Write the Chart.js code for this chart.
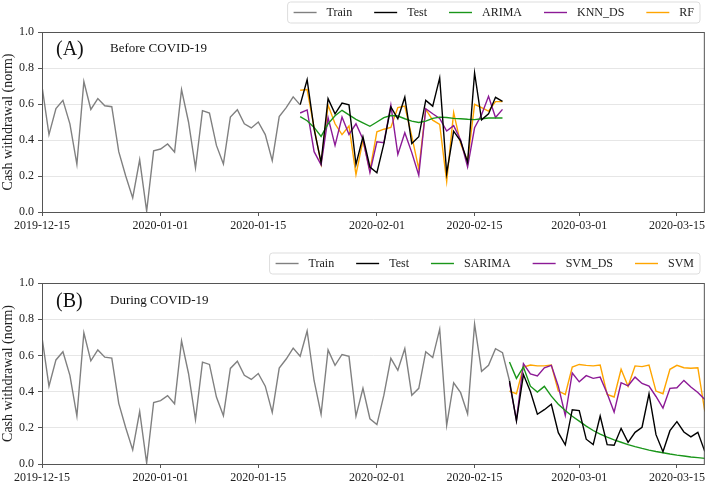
<!DOCTYPE html>
<html>
<head>
<meta charset="utf-8">
<script src="https://cdn.jsdelivr.net/npm/chart.js@4.4.0/dist/chart.umd.min.js"></script>
<style>
  html, body { margin: 0; padding: 0; background: #fff; }
  canvas { position: absolute; left: 0; }
  #chartA { top: 0; }
  #chartB { top: 240px; }
</style>
</head>
<body>
<canvas id="chartA" width="708" height="240"></canvas>
<canvas id="chartB" width="708" height="243"></canvas>
<script>
// x values are days counted from 2019-12-15
var tickDays = [0, 17, 31, 48, 62, 77, 91];
var tickLabels = ['2019-12-15', '2020-01-01', '2020-01-15', '2020-02-01', '2020-02-15', '2020-03-01', '2020-03-15'];
var yTicks = [0, 0.2, 0.4, 0.6, 0.8, 1.0];
var lastDay = 95;

// observed cash withdrawal (normalised), one value per day
var cash = [0.70, 0.43, 0.575, 0.62, 0.49, 0.265, 0.725, 0.57, 0.63, 0.59,
  0.585, 0.335, 0.20, 0.078, 0.29, 0.005, 0.34, 0.35, 0.378, 0.333,
  0.68, 0.50, 0.245, 0.563, 0.55, 0.37, 0.267, 0.528, 0.568, 0.49,
  0.467, 0.50, 0.43, 0.285, 0.53, 0.58, 0.64, 0.595, 0.735, 0.46,
  0.275, 0.63, 0.545, 0.605, 0.595, 0.264, 0.418, 0.25, 0.218, 0.38,
  0.584, 0.518, 0.638, 0.38, 0.418, 0.62, 0.588, 0.745, 0.214, 0.449,
  0.394, 0.277, 0.773, 0.512, 0.545, 0.637, 0.615, 0.46, 0.238, 0.494,
  0.40, 0.275, 0.30, 0.33, 0.173, 0.106, 0.30, 0.295, 0.137, 0.107,
  0.265, 0.107, 0.104, 0.197, 0.12, 0.175, 0.203, 0.388, 0.162, 0.068,
  0.184, 0.234, 0.177, 0.15, 0.175, 0.069];

// (A) before covid: test from day 37 to day 66
var testStartA = 37, testEndA = 66;
var arimaA = [0.53, 0.507, 0.47, 0.42, 0.49, 0.535, 0.565, 0.54, 0.515, 0.495,
  0.476, 0.50, 0.524, 0.536, 0.533, 0.518, 0.505, 0.497, 0.505, 0.52,
  0.527, 0.525, 0.52, 0.518, 0.515, 0.513, 0.518, 0.522, 0.523, 0.522];
var knnDsA = [0.55, 0.567, 0.335, 0.262, 0.524, 0.37, 0.528, 0.431, 0.49, 0.404,
  0.22, 0.39, 0.385, 0.594, 0.32, 0.44, 0.33, 0.204, 0.574, 0.546,
  0.52, 0.45, 0.48, 0.40, 0.25, 0.468, 0.54, 0.643, 0.525, 0.57];
var rfA = [0.676, 0.68, 0.468, 0.268, 0.594, 0.49, 0.43, 0.478, 0.208, 0.398,
  0.231, 0.446, 0.46, 0.47, 0.58, 0.589, 0.42, 0.24, 0.57, 0.51,
  0.487, 0.17, 0.552, 0.38, 0.28, 0.598, 0.58, 0.56, 0.613, 0.613];

// (B) during covid: test from day 67 to the end
var testStartB = 67;
var sarimaB = [0.564, 0.473, 0.536, 0.43, 0.397, 0.429, 0.375, 0.33, 0.296, 0.264,
  0.237, 0.209, 0.185, 0.165, 0.148, 0.133, 0.12, 0.107, 0.096, 0.086,
  0.077, 0.069, 0.062, 0.055, 0.049, 0.044, 0.039, 0.035, 0.031];
var svmDsB = [0.45, 0.242, 0.554, 0.498, 0.487, 0.531, 0.545, 0.43, 0.268, 0.503,
  0.454, 0.488, 0.473, 0.48, 0.39, 0.287, 0.449, 0.432, 0.48, 0.445,
  0.43, 0.373, 0.309, 0.418, 0.421, 0.462, 0.425, 0.395, 0.356];
var svmB = [0.403, 0.388, 0.536, 0.547, 0.542, 0.542, 0.547, 0.403, 0.384, 0.536,
  0.55, 0.545, 0.542, 0.547, 0.384, 0.37, 0.523, 0.43, 0.542, 0.538,
  0.547, 0.403, 0.388, 0.523, 0.545, 0.532, 0.529, 0.532, 0.29];

var SERIF = '"Liberation Serif", "Times New Roman", serif';

function pts(values, start) {
  return values.map(function (v, i) { return { x: start + i, y: v }; });
}

function line(label, color, data) {
  return { label: label, data: data, borderColor: color, backgroundColor: color,
    borderWidth: 1.4, pointRadius: 0, tension: 0, fill: false };
}

// frame, panel letter and a boxed legend in the top right corner
var decor = {
  id: 'decor',
  afterDraw: function (chart, args, o) {
    var ctx = chart.ctx, a = chart.chartArea;
    ctx.save();
    ctx.strokeStyle = '#555';
    ctx.lineWidth = 1;
    ctx.strokeRect(a.left + 0.5, a.top + 0.5, a.right - a.left - 1, a.bottom - a.top);

    ctx.fillStyle = '#111';
    ctx.textBaseline = 'middle';
    ctx.textAlign = 'left';
    ctx.font = '20px ' + SERIF;
    ctx.fillText(o.letter, 56, o.letterY);
    ctx.font = '13px ' + SERIF;
    ctx.fillText(o.subtitle, 110, o.letterY - 1);

    // legend
    var sets = chart.data.datasets;
    ctx.font = '12px ' + SERIF;
    var lineLen = 23, gap = 10, pad = 22;
    var widths = sets.map(function (ds) { return lineLen + gap + ctx.measureText(ds.label).width; });
    var total = widths.reduce(function (s, w) { return s + w; }, 0) + pad * (sets.length - 1);
    var right = 694, left = right - total;
    var top = o.legendY - 10, h = 21;
    ctx.beginPath();
    ctx.roundRect(left - 6, top, total + 12, h, 3);
    ctx.fillStyle = 'rgba(255,255,255,0.9)';
    ctx.fill();
    ctx.strokeStyle = '#ddd';
    ctx.stroke();
    var x = left;
    sets.forEach(function (ds, i) {
      ctx.strokeStyle = ds.borderColor;
      ctx.lineWidth = 1.4;
      ctx.beginPath();
      ctx.moveTo(x, o.legendY + 0.5);
      ctx.lineTo(x + lineLen, o.legendY + 0.5);
      ctx.stroke();
      ctx.fillStyle = '#222';
      ctx.fillText(ds.label, x + lineLen + gap, o.legendY + 1);
      x += widths[i] + pad;
    });
    ctx.restore();
  }
};

function options(deco, axisH) {
  return {
    responsive: false,
    animation: false,
    layout: { padding: { top: deco.plotTop, right: 2, left: 0, bottom: 0 } },
    plugins: { legend: { display: false }, tooltip: { enabled: false }, decor: deco },
    scales: {
      x: {
        type: 'linear', min: 0, max: lastDay,
        afterBuildTicks: function (s) { s.ticks = tickDays.map(function (d) { return { value: d }; }); },
        afterFit: function (s) { s.height = axisH; },
        ticks: {
          autoSkip: false, maxRotation: 0, padding: 3, color: '#222',
          font: { family: SERIF, size: 12 },
          callback: function (v, i) { return tickLabels[i]; }
        },
        grid: { drawOnChartArea: false, tickLength: 4, color: '#555' },
        border: { display: false }
      },
      y: {
        min: 0, max: 1,
        afterBuildTicks: function (s) { s.ticks = yTicks.map(function (v) { return { value: v }; }); },
        afterFit: function (s) { s.width = 42; },
        ticks: {
          padding: 4, color: '#222', font: { family: SERIF, size: 12 },
          callback: function (v) { return v.toFixed(1); }
        },
        grid: { color: '#e6e6e6', tickLength: 4, tickColor: '#555' },
        border: { display: false },
        title: { display: true, text: 'Cash withdrawal (norm)', color: '#222',
          font: { family: SERIF, size: 14 }, padding: { top: 0, bottom: 0 } }
      }
    }
  };
}

new Chart(document.getElementById('chartA'), {
  type: 'line',
  data: {
    datasets: [
      line('Train', '#808080', pts(cash.slice(0, testStartA + 1), 0)),
      line('Test', '#000000', pts(cash.slice(testStartA, testEndA + 1), testStartA)),
      line('ARIMA', '#1a961a', pts(arimaA, testStartA)),
      line('KNN_DS', '#8c1a96', pts(knnDsA, testStartA)),
      line('RF', '#ffa500', pts(rfA, testStartA))
    ]
  },
  options: options({ letter: '(A)', subtitle: 'Before COVID-19', letterY: 50, legendY: 12, plotTop: 32 }, 28),
  plugins: [decor]
});

new Chart(document.getElementById('chartB'), {
  type: 'line',
  data: {
    datasets: [
      line('Train', '#808080', pts(cash.slice(0, testStartB + 1), 0)),
      line('Test', '#000000', pts(cash.slice(testStartB), testStartB)),
      line('SARIMA', '#1a961a', pts(sarimaB, testStartB)),
      line('SVM_DS', '#8c1a96', pts(svmDsB, testStartB)),
      line('SVM', '#ffa500', pts(svmB, testStartB))
    ]
  },
  options: options({ letter: '(B)', subtitle: 'During COVID-19', letterY: 62, legendY: 23, plotTop: 43 }, 19),
  plugins: [decor]
});
</script>
</body>
</html>
